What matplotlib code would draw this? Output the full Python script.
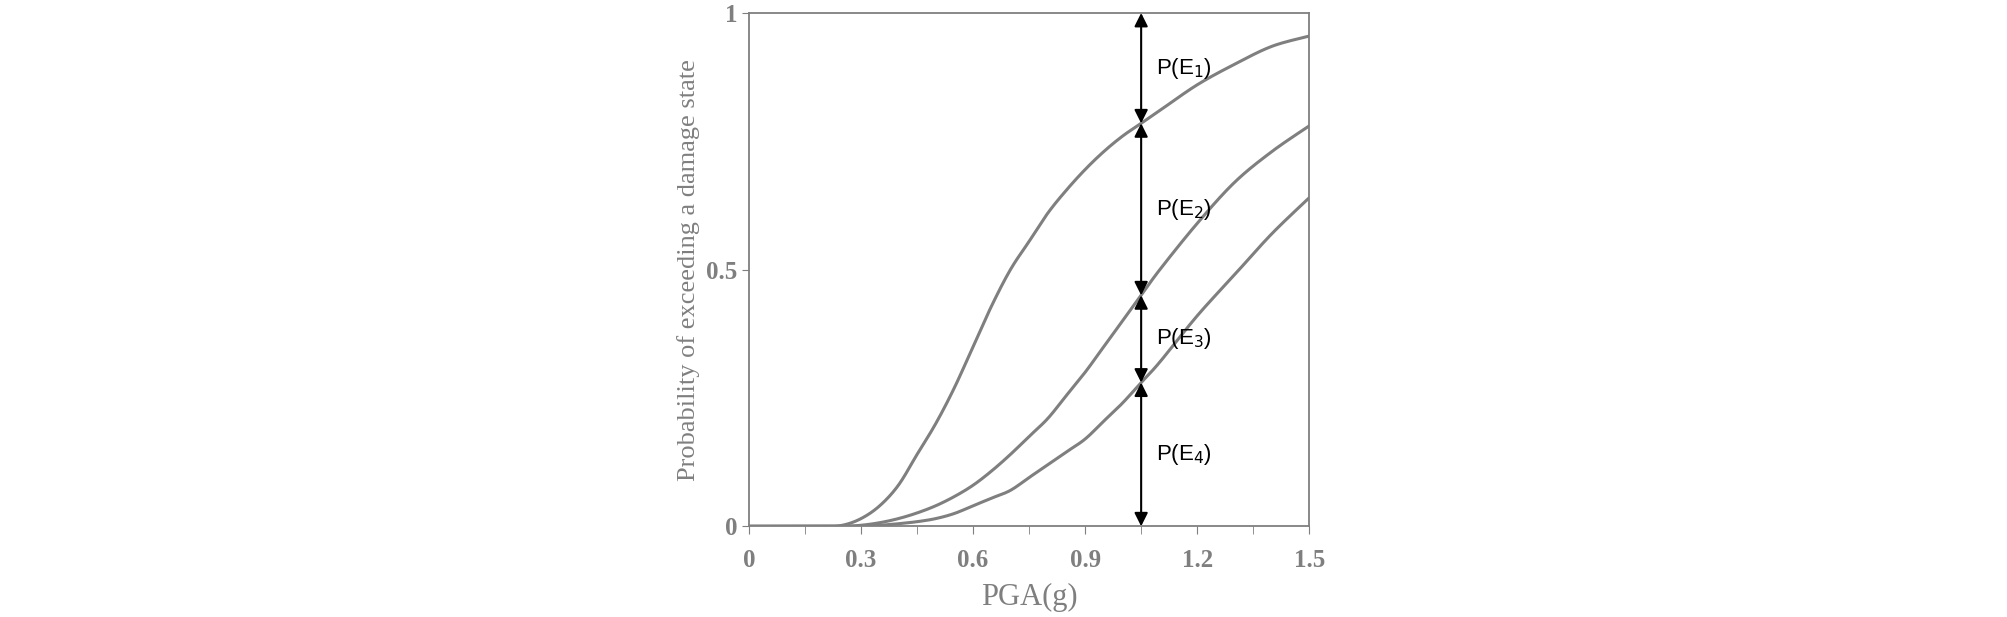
import numpy as np
import matplotlib.pyplot as plt
from matplotlib.ticker import MultipleLocator

# values
pga = [0, 0.1, 0.2, 0.25, 0.3, 0.35, 0.4, 0.45, 0.5, 0.55, 0.6, 0.65, 0.7, 0.75,
       0.8, 0.85, 0.9, 0.95, 1.0, 1.05, 1.1, 1.2, 1.3, 1.4, 1.5]
p_ds1 = [0, 0, 0, 0.002, 0.015, 0.04, 0.08, 0.14, 0.20, 0.27, 0.35, 0.43, 0.50, 0.555,
         0.61, 0.655, 0.695, 0.73, 0.76, 0.785, 0.81, 0.86, 0.90, 0.935, 0.955]
p_ds2 = [0, 0, 0, 0, 0.002, 0.007, 0.015, 0.026, 0.04, 0.058, 0.08, 0.108, 0.14, 0.175,
         0.21, 0.255, 0.30, 0.35, 0.40, 0.45, 0.50, 0.59, 0.67, 0.73, 0.78]
p_ds3 = [0, 0, 0, 0, 0, 0.002, 0.005, 0.009, 0.015, 0.025, 0.04, 0.055, 0.07, 0.095,
         0.12, 0.145, 0.17, 0.205, 0.24, 0.28, 0.32, 0.41, 0.49, 0.57, 0.64]
arrow_x = 1.05
levels = [1.0, 0.785, 0.45, 0.28, 0.0]
labels = ["P(E$_1$)", "P(E$_2$)", "P(E$_3$)", "P(E$_4$)"]


def smooth(x, y, n=20):
    # Catmull-Rom through the read points, just to draw a smooth curve
    x = np.asarray(x, float)
    y = np.asarray(y, float)
    px = np.concatenate([[x[0]], x, [x[-1]]])
    py = np.concatenate([[y[0]], y, [y[-1]]])
    xs, ys = [], []
    t = np.linspace(0, 1, n, endpoint=False)
    for i in range(1, len(px) - 2):
        for arr, out in ((px, xs), (py, ys)):
            p0, p1, p2, p3 = arr[i - 1], arr[i], arr[i + 1], arr[i + 2]
            out.extend(0.5 * (2 * p1 + (-p0 + p2) * t
                              + (2 * p0 - 5 * p1 + 4 * p2 - p3) * t ** 2
                              + (-p0 + 3 * p1 - 3 * p2 + p3) * t ** 3))
    xs.append(x[-1])
    ys.append(y[-1])
    return np.array(xs), np.clip(ys, 0, 1)


grey = "#7f7f7f"
fig = plt.figure(figsize=(20.08, 6.17), dpi=100)
ax = fig.add_axes([0.373, 0.147, 0.279, 0.832])

for p in (p_ds1, p_ds2, p_ds3):
    sx, sy = smooth(pga, p)
    ax.plot(sx, sy, color=grey, lw=2.2)

# arrows between damage-state curves
for top, bot, lab in zip(levels[:-1], levels[1:], labels):
    ax.annotate("", xy=(arrow_x, bot), xytext=(arrow_x, top),
                arrowprops=dict(arrowstyle="<|-|>", color="black", lw=1.5,
                                mutation_scale=20, shrinkA=0, shrinkB=0))
    ax.text(arrow_x + 0.04, (top + bot) / 2, lab, fontsize=16,
            family="Liberation Sans", va="center", ha="left")

ax.set_xlim(0, 1.5)
ax.set_ylim(0, 1)
ax.xaxis.set_minor_locator(MultipleLocator(0.15))
ax.set_xticks([0, 0.3, 0.6, 0.9, 1.2, 1.5])
ax.set_xticklabels(["0", "0.3", "0.6", "0.9", "1.2", "1.5"])
ax.set_yticks([0, 0.5, 1])
ax.set_yticklabels(["0", "0.5", "1"])
for s in ax.spines.values():
    s.set_color(grey)
    s.set_linewidth(1.3)
ax.tick_params(which="both", color=grey, direction="out", length=6)
ax.tick_params(axis="y", length=5)
ax.tick_params(axis="x", pad=10)
for t in ax.get_xticklabels() + ax.get_yticklabels():
    t.set_family("Liberation Serif")
    t.set_fontweight("bold")
    t.set_fontsize(18)
    t.set_color(grey)
ax.set_xlabel("PGA(g)", family="Liberation Serif", fontsize=22, color=grey, labelpad=8)
ax.set_ylabel("Probability of exceeding a damage state", family="Liberation Serif",
              fontsize=19, color=grey, labelpad=4)

fig.savefig("out.png", dpi=100)
